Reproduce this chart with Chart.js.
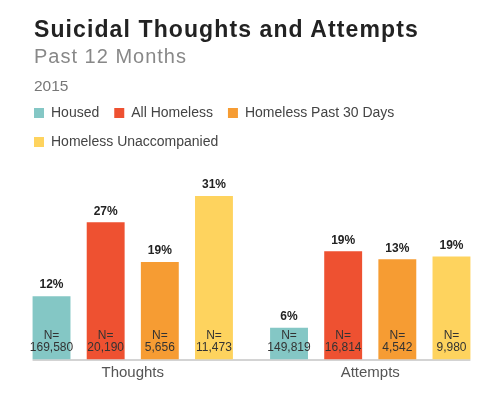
<!DOCTYPE html>
<html>
<head>
<meta charset="utf-8">
<script src="https://cdn.jsdelivr.net/npm/chart.js@4"></script>
<style>
  body { margin: 0; background: #fff; font-family: "Liberation Sans", Arial, sans-serif; }
  #wrap { position: relative; width: 502px; height: 395px; }
  #chart { position: absolute; left: 0; top: 0; }
  .t { position: absolute; left: 34px; white-space: nowrap; }
  #title { top: 16px; font-size: 23px; font-weight: bold; color: #222; letter-spacing: 1.1px; }
  #sub { top: 45px; font-size: 20px; color: #888; letter-spacing: 1px; }
  #year { top: 77px; font-size: 15.5px; color: #777; }
</style>
</head>
<body>
<div id="wrap">
  <canvas id="chart" width="502" height="395"></canvas>
  <div class="t" id="title">Suicidal Thoughts and Attempts</div>
  <div class="t" id="sub">Past 12 Months</div>
  <div class="t" id="year">2015</div>
</div>
<script>
// categories and series
const categories = ['Thoughts', 'Attempts'];
const seriesNames = ['Housed', 'All Homeless', 'Homeless Past 30 Days', 'Homeless Unaccompanied'];
const seriesColors = ['#84c7c5', '#ee5131', '#f69c33', '#fed35e'];

// bar heights as drawn in the picture (percent)
const housed = [12, 6];
const allHomeless = [26, 20.5];
const past30Days = [18.5, 19];
const unaccompanied = [31, 19.5];

// printed labels
const housedPct = ['12%', '6%'];
const allHomelessPct = ['27%', '19%'];
const past30DaysPct = ['19%', '13%'];
const unaccompaniedPct = ['31%', '19%'];

const housedN = ['169,580', '149,819'];
const allHomelessN = ['20,190', '16,814'];
const past30DaysN = ['5,656', '4,542'];
const unaccompaniedN = ['11,473', '9,980'];

const seriesData = [housed, allHomeless, past30Days, unaccompanied];
const pctLabels = [housedPct, allHomelessPct, past30DaysPct, unaccompaniedPct];
const nLabels = [housedN, allHomelessN, past30DaysN, unaccompaniedN];

const FONT = '"Liberation Sans", Arial, sans-serif';

const barLabels = {
    id: 'barLabels',
    afterDatasetsDraw: function(chart) {
        const ctx = chart.ctx;
        ctx.save();
        ctx.textAlign = 'center';
        ctx.textBaseline = 'middle';
        chart.data.datasets.forEach(function(ds, i) {
            chart.getDatasetMeta(i).data.forEach(function(bar, j) {
                ctx.fillStyle = '#222';
                ctx.font = 'bold 12px ' + FONT;
                ctx.fillText(pctLabels[i][j], bar.x, bar.y - 11);
                ctx.fillStyle = '#333';
                ctx.font = '12px ' + FONT;
                ctx.fillText('N=', bar.x, bar.base - 24);
                ctx.fillText(nLabels[i][j], bar.x, bar.base - 12);
            });
        });
        ctx.restore();
    }
};

const baseLine = {
    id: 'baseLine',
    beforeDatasetsDraw: function(chart) {
        const first = chart.getDatasetMeta(0).data[0];
        const last = chart.getDatasetMeta(seriesData.length - 1).data[categories.length - 1];
        const y = chart.chartArea.bottom + 0.5;
        const ctx = chart.ctx;
        ctx.save();
        ctx.strokeStyle = '#a8a8a8';
        ctx.lineWidth = 1;
        ctx.beginPath();
        ctx.moveTo(first.x - first.width / 2, y);
        ctx.lineTo(last.x + last.width / 2, y);
        ctx.stroke();
        ctx.restore();
    }
};

const shiftLegend = {
    id: 'shiftLegend',
    afterLayout: function(chart) {
        chart.legend.left += 5;
    }
};

new Chart(document.getElementById('chart').getContext('2d'), {
    type: 'bar',
    data: {
        labels: categories,
        datasets: seriesNames.map(function(name, i) {
            return {
                label: name,
                data: seriesData[i],
                backgroundColor: seriesColors[i],
                borderWidth: 0,
                barPercentage: 0.7,
                categoryPercentage: 0.912
            };
        })
    },
    options: {
        responsive: false,
        animation: false,
        layout: {
            padding: { left: 14, right: 13, top: 91, bottom: 9.5 }
        },
        plugins: {
            legend: {
                position: 'top',
                align: 'start',
                labels: {
                    boxWidth: 10,
                    boxHeight: 10,
                    padding: 15,
                    color: '#444',
                    font: { size: 14, family: FONT }
                }
            },
            tooltip: { enabled: false }
        },
        scales: {
            x: {
                grid: { display: false, drawTicks: false },
                border: { display: false },
                ticks: {
                    color: '#555',
                    padding: 4,
                    font: { size: 15, family: FONT }
                }
            },
            y: {
                display: false,
                min: 0,
                max: 38
            }
        }
    },
    plugins: [barLabels, baseLine, shiftLegend]
});
</script>
</body>
</html>
